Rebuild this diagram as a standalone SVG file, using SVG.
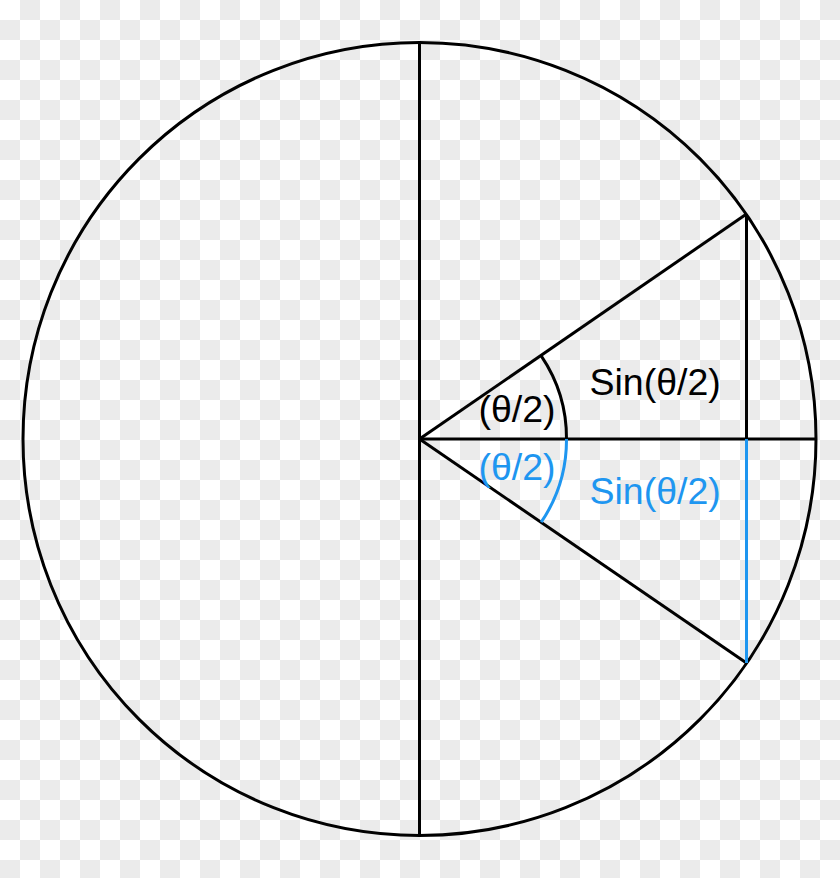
<svg xmlns="http://www.w3.org/2000/svg" width="840" height="878" viewBox="0 0 840 878">
  <defs>
    <pattern id="checker" x="0" y="0" width="40" height="40" patternUnits="userSpaceOnUse">
      <rect x="0" y="0" width="40" height="40" fill="#ffffff"/>
      <rect x="20" y="0" width="20" height="20" fill="#ebebeb"/>
      <rect x="0" y="20" width="20" height="20" fill="#ebebeb"/>
    </pattern>
  </defs>
  <style>
    .ln { fill: none; stroke: #000; stroke-width: 3; }
    .bl { fill: none; stroke: #1E96F0; stroke-width: 3; }
    .t { font-family: "Liberation Sans", Arial, sans-serif; font-size: 37.5px; }
    .tk { fill: #000; }
    .tb { fill: #1E96F0; }
  </style>
  <rect x="0" y="0" width="840" height="878" fill="url(#checker)"/>
  <g id="circle">
    <circle class="ln" cx="419.5" cy="439" r="396.5"/>
  </g>
  <g id="connectors">
    <line class="ln" x1="419.5" y1="42.5" x2="419.5" y2="835.5"/>
    <line class="ln" x1="419.5" y1="439" x2="816" y2="439"/>
    <line class="ln" x1="419.5" y1="439" x2="746.5" y2="214"/>
    <line class="ln" x1="419.5" y1="439" x2="746.5" y2="663"/>
    <line class="ln" x1="746.5" y1="214" x2="746.5" y2="439"/>
    <line class="bl" x1="746.5" y1="439" x2="746.5" y2="663"/>
    <path class="ln" d="M 541.2 355.8 A 147 147 0 0 1 566.5 439"/>
    <path class="bl" d="M 566.5 439 A 147 147 0 0 1 541.2 522.2"/>
  </g>
  <g id="labels">
    <text class="t tk" x="478.5" y="422">(θ/2)</text>
    <text class="t tk" x="589.5" y="395">Sin(θ/2)</text>
    <text class="t tb" x="478.5" y="480">(θ/2)</text>
    <text class="t tb" x="589.5" y="504">Sin(θ/2)</text>
  </g>
</svg>
